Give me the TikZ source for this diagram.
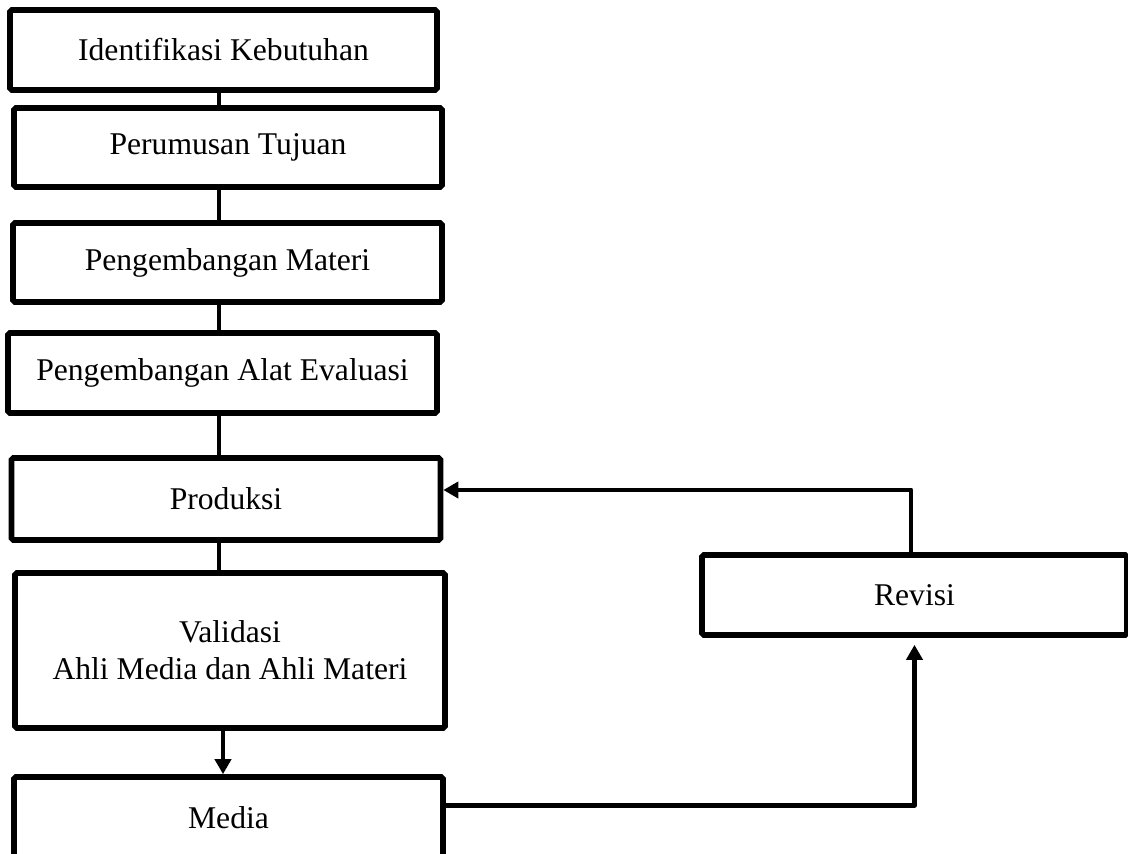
\documentclass[tikz,border=0pt]{standalone}
\usepackage{fontspec}
\setmainfont{Liberation Serif}
\usetikzlibrary{positioning, arrows.meta, calc}
\tikzset{
        flow-box/.style={
            draw, rectangle, line width=3.2pt, rounded corners=1pt, align=center,
            inner sep=0pt, font=\fontsize{18}{21}\selectfont
        },
        flow-line/.style={
            line width=2.8pt
        },
        flow-arrow/.style={
            line width=2.8pt, line join=round, -{Triangle[length=0.3cm, width=0.32cm]}
        },
}

\begin{document}
\begin{tikzpicture}

        \useasboundingbox (0,0) rectangle (22.56,-17.08);

        %DRAW NODES (main column on the left, revision box on the right)
        \node [flow-box, minimum width=8.54cm, minimum height=1.60cm] (IDENT) at (4.47,-1.00)  {Identifikasi Kebutuhan};
        \node [flow-box, minimum width=8.56cm, minimum height=1.58cm] (TUJUAN) at (4.56,-2.95) {Perumusan Tujuan};
        \node [flow-box, minimum width=8.58cm, minimum height=1.58cm] (MATERI) at (4.55,-5.25) {Pengembangan Materi};
        \node [flow-box, minimum width=8.58cm, minimum height=1.60cm] (EVAL)   at (4.45,-7.46) {Pengembangan Alat Evaluasi};
        \node [flow-box, minimum width=8.58cm, minimum height=1.64cm] (PROD)   at (4.52,-9.98) {Produksi};
        \node [flow-box, minimum width=8.60cm, minimum height=3.10cm] (VALID)  at (4.60,-13.01) {Validasi\\Ahli Media dan Ahli Materi};
        \node [flow-box, minimum width=8.58cm, minimum height=1.64cm] (MEDIA)  at (4.57,-16.36) {Media};
        \node [flow-box, minimum width=8.50cm, minimum height=1.60cm] (REVISI) at (18.29,-11.90) {Revisi};
        \coordinate (SPINE) at (4.38,0);

        % CONNECT MAIN COLUMN
        \draw [flow-line] (IDENT.south -| SPINE)  -- (TUJUAN.north -| SPINE);
        \draw [flow-line] (TUJUAN.south -| SPINE) -- (MATERI.north -| SPINE);
        \draw [flow-line] (MATERI.south -| SPINE) -- (EVAL.north -| SPINE);
        \draw [flow-line] (EVAL.south -| SPINE)   -- (PROD.north -| SPINE);
        \draw [flow-line] (PROD.south -| SPINE)   -- (VALID.north -| SPINE);
        \draw [flow-arrow] ([xshift=-0.14cm]VALID.south) -- ([xshift=-0.14cm]VALID.south |- MEDIA.north);

        % CONNECT REVISION LOOP
        \draw [flow-arrow, shorten >=0.14cm] ([yshift=-0.62cm]MEDIA.north east) -| (REVISI.south);
        \draw [flow-arrow] ([xshift=-0.07cm]REVISI.north) |- ([yshift=0.18cm]PROD.east);

\end{tikzpicture}
\end{document}
